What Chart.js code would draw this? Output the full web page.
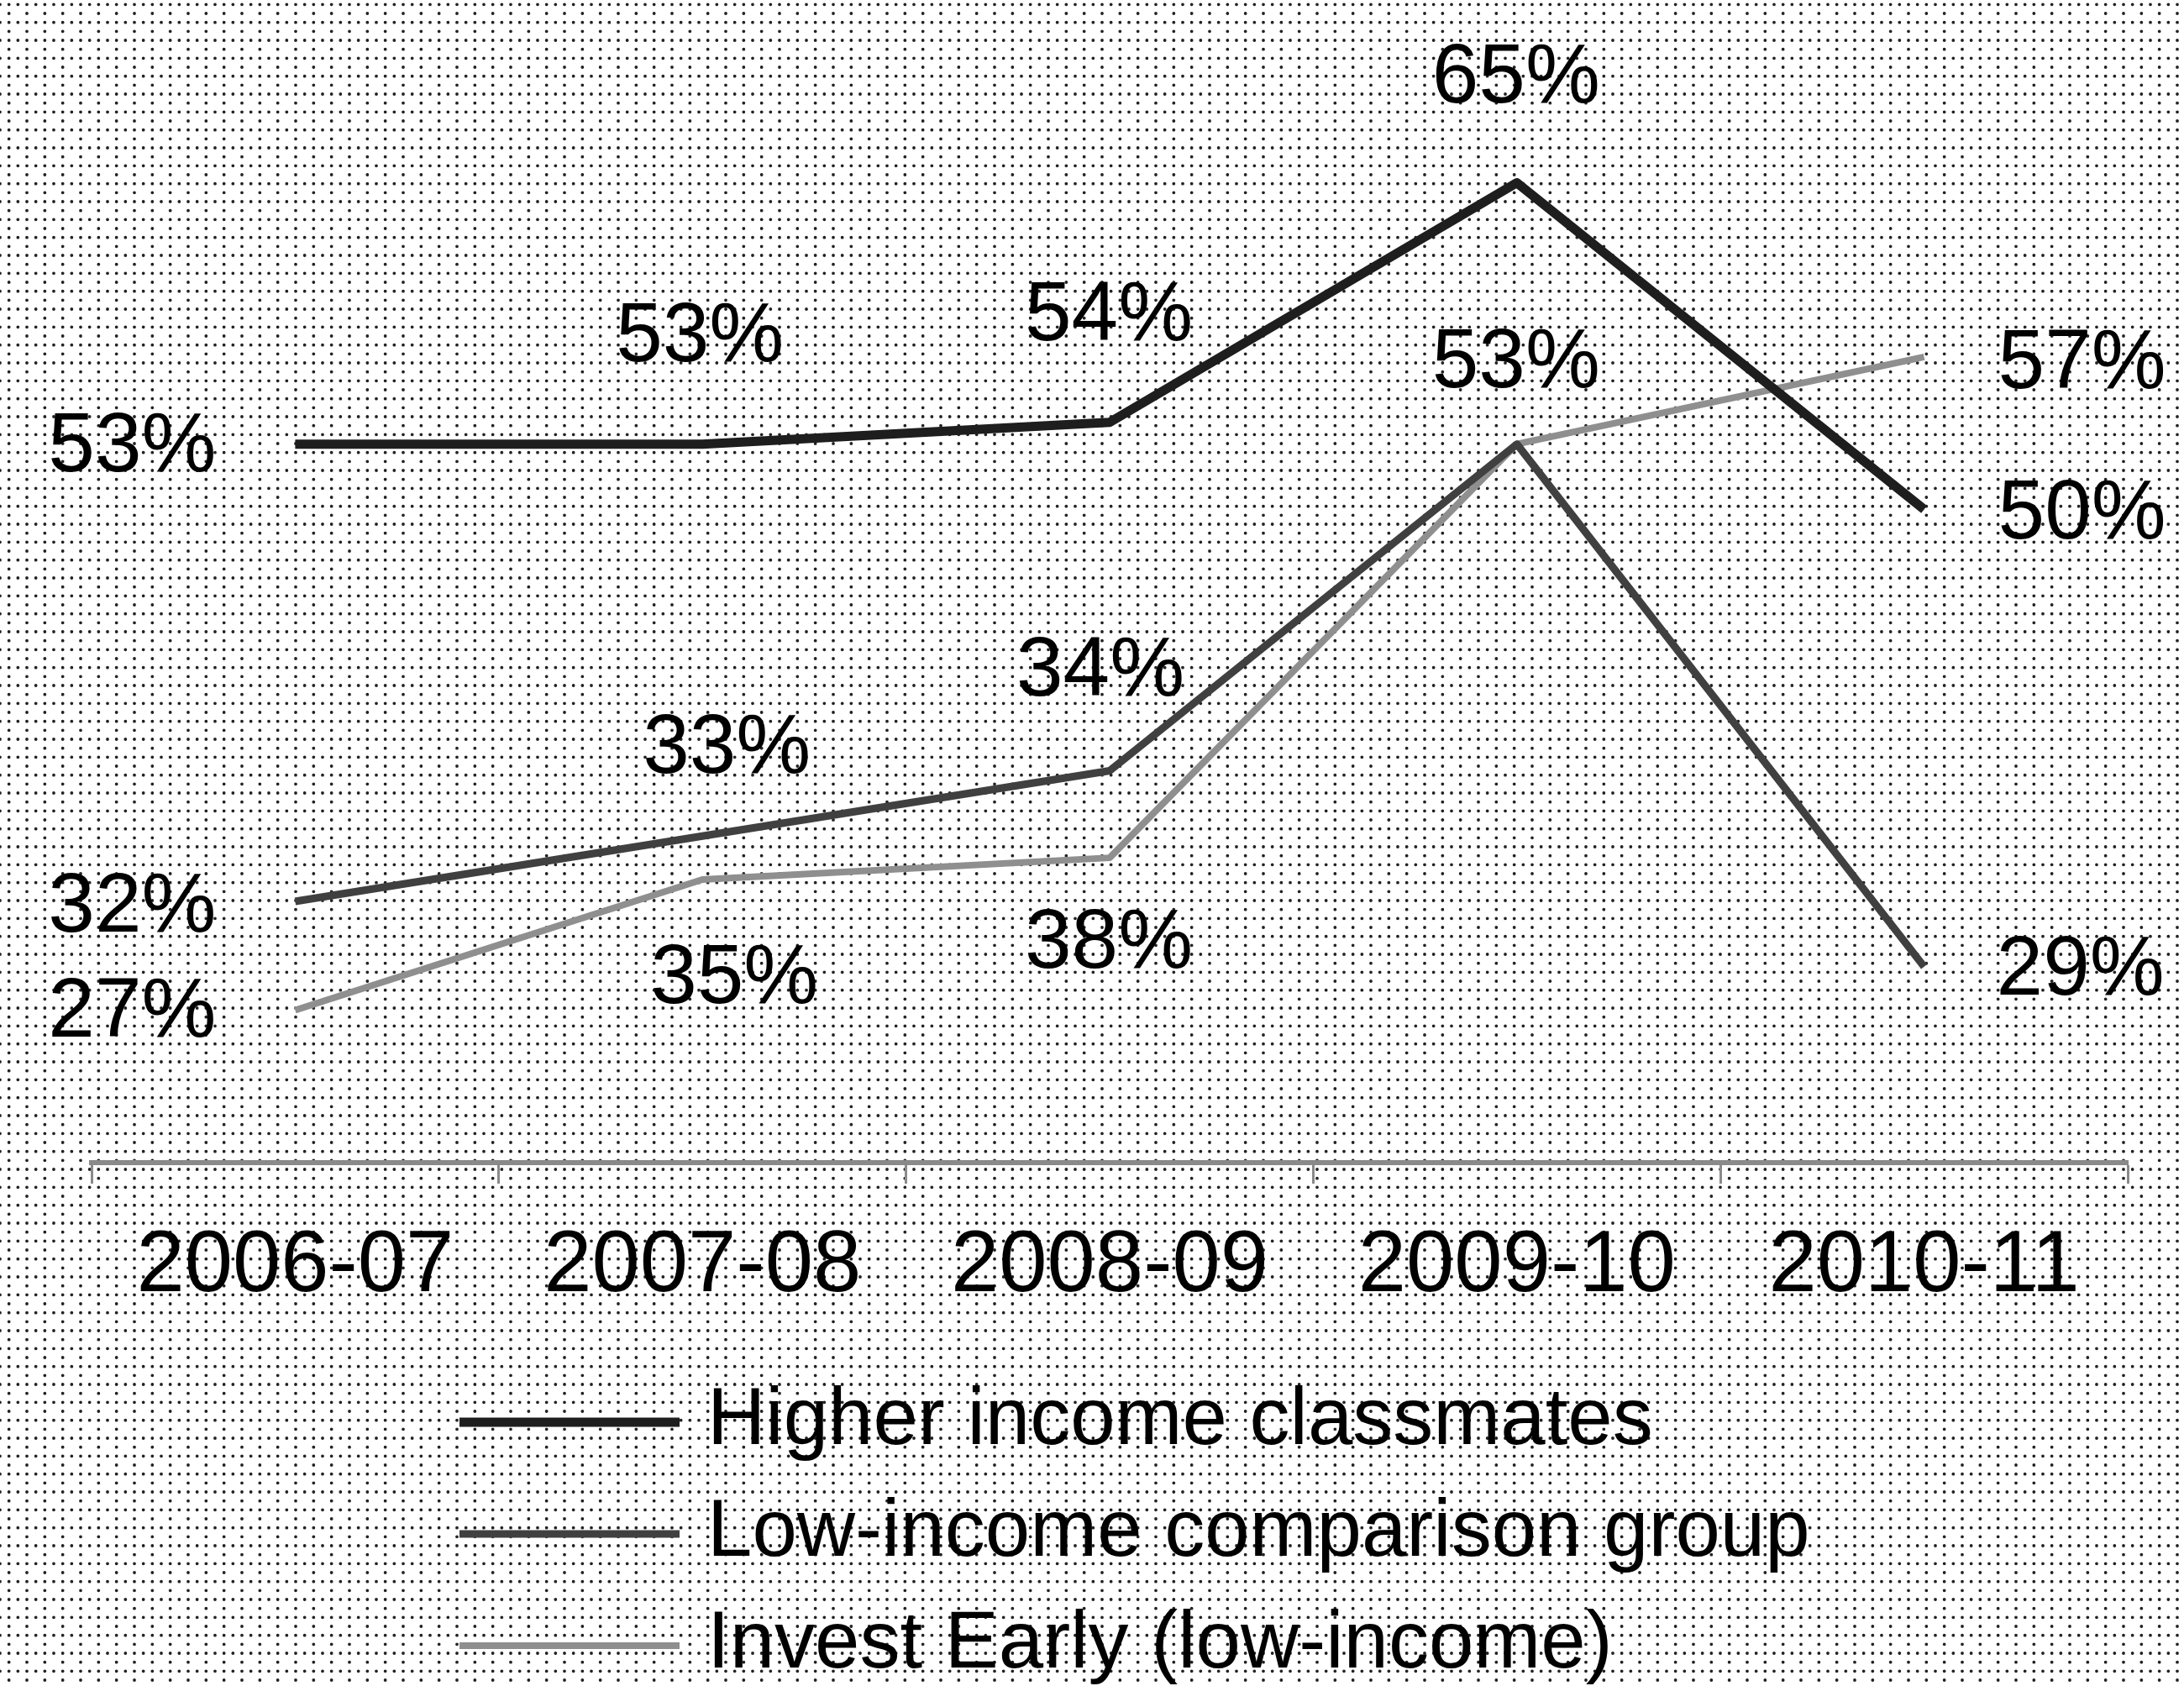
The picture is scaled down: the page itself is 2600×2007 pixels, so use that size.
<!DOCTYPE html>
<html lang="en">
<head>
  <meta charset="UTF-8">
  <title>Invest Early - outcomes by year</title>
  <script src="https://cdn.jsdelivr.net/npm/chart.js"></script>
  <style>
    body { margin: 0; background: #fff; }
    #wrap { width: 2600px; height: 2007px; }
  </style>
</head>
<body>
  <div id="wrap"><canvas id="chart" width="2600" height="2007"></canvas></div>

  <script type="text/javascript">
    // data
    const categories = ['2006-07', '2007-08', '2008-09', '2009-10', '2010-11'];
    const seriesNames = ['Higher income classmates', 'Low-income comparison group', 'Invest Early (low-income)'];
    const higherIncome = [53, 53, 54, 65, 50];
    const lowIncome = [32, 35, 38, 53, 29];
    const investEarly = [27, 33, 34, 53, 57];

    // where each value label sits relative to its point (dx, dy), null = no label
    const labelOffsets = [
      [[-194, 5], [-3, -126], [-1, -125], [-1, -123], [188, 7]],
      [[-194, 8], [38, 171], [-1, 207], [-1, -95], [186, 6]],
      [[-194, 4], [29, -155], [-11, -221], null, [188, 9]]
    ];

    const FONT = '"Liberation Sans", Arial, sans-serif';
    const lineColors = ['#1e1e1e', '#404040', '#8f8f8f'];
    const lineWidths = [11, 9, 8];

    // dotted paper background
    const dottedBg = {
      id: 'dottedBg',
      beforeDraw(chart) {
        const ctx = chart.ctx;
        const step = 32 / 3;
        ctx.save();
        ctx.fillStyle = '#fff';
        ctx.fillRect(0, 0, chart.width, chart.height);
        ctx.fillStyle = '#222';
        ctx.beginPath();
        for (let r = 0; r * step <= chart.height + step; r++) {
          const y = 5.33 + r * step;
          const full = r % 2 === 0;
          const x0 = full ? 0 : step;
          const dx = full ? step : step * 2;
          for (let x = x0; x <= chart.width + 2; x += dx) {
            ctx.moveTo(x + 1.9, y);
            ctx.arc(x, y, 1.9, 0, Math.PI * 2);
          }
        }
        ctx.fill();
        ctx.restore();
      }
    };

    // percentage labels next to the points
    const valueLabels = {
      id: 'valueLabels',
      afterDatasetsDraw(chart) {
        const ctx = chart.ctx;
        ctx.save();
        ctx.font = '100px ' + FONT;
        ctx.fillStyle = '#000';
        ctx.textAlign = 'center';
        ctx.textBaseline = 'middle';
        chart.data.datasets.forEach((ds, di) => {
          const meta = chart.getDatasetMeta(di);
          meta.data.forEach((pt, i) => {
            const off = labelOffsets[di][i];
            if (!off) return;
            ctx.fillText(ds.data[i] + '%', pt.x + off[0], pt.y + off[1]);
          });
        });
        ctx.restore();
      }
    };

    // stacked legend under the axis
    const stackedLegend = {
      id: 'stackedLegend',
      afterDraw(chart) {
        const ctx = chart.ctx;
        const rows = [1693, 1826, 1959];
        ctx.save();
        ctx.font = '96px ' + FONT;
        ctx.fillStyle = '#000';
        ctx.textAlign = 'left';
        ctx.textBaseline = 'middle';
        chart.data.datasets.forEach((ds, di) => {
          const y = rows[di];
          ctx.strokeStyle = ds.borderColor;
          ctx.lineWidth = ds.borderWidth;
          ctx.beginPath();
          ctx.moveTo(547, y);
          ctx.lineTo(809, y);
          ctx.stroke();
          ctx.fillText(ds.label, 842, y);
        });
        ctx.restore();
      }
    };

    const series = [higherIncome, lowIncome, investEarly];

    new Chart(document.getElementById('chart'), {
      type: 'line',
      data: {
        labels: categories,
        datasets: series.map((vals, i) => ({
          label: seriesNames[i],
          data: vals,
          borderColor: lineColors[i],
          borderWidth: lineWidths[i],
          pointRadius: 0,
          tension: 0,
          borderJoinStyle: 'round',
          fill: false
        }))
      },
      options: {
        responsive: false,
        animation: false,
        layout: { padding: { left: 109, right: 67, top: 88, bottom: 0 } },
        plugins: {
          legend: { display: false },
          tooltip: { enabled: false }
        },
        scales: {
          x: {
            offset: true,
            afterFit: (s) => { s.height = 623; },
            border: { display: true, color: '#8a8a8a', width: 6 },
            grid: {
              display: true,
              offset: true,
              drawOnChartArea: false,
              drawTicks: true,
              tickLength: 25,
              tickWidth: 3,
              tickColor: '#8a8a8a'
            },
            ticks: {
              color: '#000',
              padding: 38,
              font: { family: FONT, size: 103 }
            }
          },
          y: {
            display: false,
            min: 20,
            max: 70
          }
        }
      },
      plugins: [dottedBg, valueLabels, stackedLegend]
    });
  </script>
</body>
</html>
